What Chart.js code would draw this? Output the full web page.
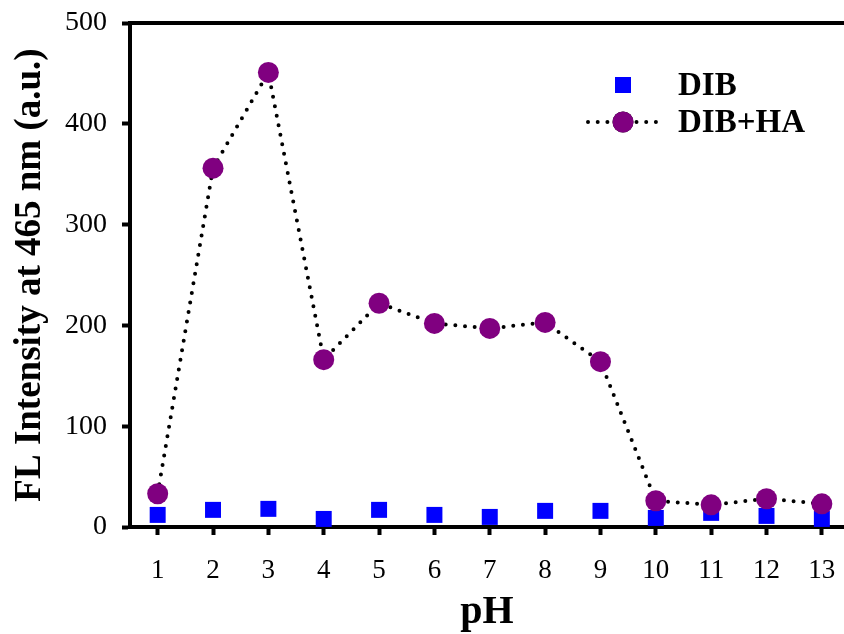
<!DOCTYPE html>
<html>
<head>
<meta charset="utf-8">
<script src="https://cdn.jsdelivr.net/npm/chart.js@4"></script>
<style>
  body { margin: 0; background: #fff; }
</style>
</head>
<body>
<canvas id="chart" width="844" height="634"></canvas>
<script>
var phValues = [1, 2, 3, 4, 5, 6, 7, 8, 9, 10, 11, 12, 13];
var dib = [12, 17, 18, 8, 17, 12, 10, 16, 16, 9, 14, 11, 8];
var dibHa = [33, 356, 451, 166, 222, 202, 197, 203, 164, 26, 22, 28, 23];
var yTicks = [0, 100, 200, 300, 400, 500];

function toPoints(values) {
    return phValues.map(function (x, i) { return { x: x, y: values[i] }; });
}

// no extra room for overflowing tick labels, keep the plot box fixed
function noPadding(scale) {
    scale.paddingTop = 0;
    scale.paddingBottom = 0;
    scale.paddingLeft = 0;
    scale.paddingRight = 0;
}

// legend drawn by hand: marker with dotted line through it, like the original
var legendPlugin = {
    id: 'sideLegend',
    afterDraw: function (chart) {
        var ctx = chart.ctx;
        var items = [
            { ds: chart.data.datasets[1], y: 85 },
            { ds: chart.data.datasets[0], y: 122 }
        ];
        ctx.save();
        items.forEach(function (item) {
            var ds = item.ds;
            var cx = 623;
            if (ds.showLine) {
                ctx.beginPath();
                ctx.setLineDash(ds.borderDash);
                ctx.lineCap = 'round';
                ctx.lineWidth = ds.borderWidth;
                ctx.strokeStyle = ds.borderColor;
                ctx.moveTo(588, item.y);
                ctx.lineTo(658, item.y);
                ctx.stroke();
                ctx.setLineDash([]);
            }
            Chart.helpers.drawPoint(ctx, {
                pointStyle: ds.pointStyle,
                radius: ds.pointRadius,
                rotation: 0,
                borderWidth: 0
            }, cx, item.y);
            ctx.fillStyle = ds.pointBackgroundColor;
            ctx.fill();
            ctx.fillStyle = '#000';
            ctx.font = 'bold 33px "Liberation Serif", serif';
            ctx.textBaseline = 'middle';
            ctx.textAlign = 'left';
            ctx.fillText(ds.label, 678, item.y + 1);
        });
        ctx.restore();
    }
};

var ctx = document.getElementById('chart').getContext('2d');
var chart = new Chart(ctx, {
    type: 'scatter',
    data: {
        datasets: [{
            label: 'DIB+HA',
            data: toPoints(dibHa),
            showLine: true,
            borderColor: '#000',
            borderWidth: 4,
            borderDash: [0, 9.7],
            borderCapStyle: 'round',
            pointStyle: 'circle',
            pointRadius: 10.5,
            pointHoverRadius: 10.5,
            pointBackgroundColor: '#800080',
            pointBorderWidth: 0
        }, {
            label: 'DIB',
            data: toPoints(dib),
            showLine: false,
            pointStyle: 'rect',
            pointRadius: 11.3,
            pointHoverRadius: 11.3,
            pointBackgroundColor: '#0000ff',
            pointBorderWidth: 0
        }]
    },
    options: {
        responsive: false,
        animation: false,
        devicePixelRatio: 1,
        layout: { padding: 0, autoPadding: false },
        plugins: {
            legend: { display: false },
            tooltip: { enabled: false }
        },
        scales: {
            x: {
                type: 'linear',
                position: 'bottom',
                min: 0.5,
                max: 13.4,
                afterBuildTicks: function (scale) {
                    scale.ticks = phValues.map(function (v) { return { value: v }; });
                },
                afterFit: function (scale) { scale.height = 107; noPadding(scale); },
                border: { display: true, color: '#000', width: 4 },
                grid: {
                    drawOnChartArea: false,
                    drawTicks: true,
                    tickLength: 8,
                    tickWidth: 4,
                    tickColor: '#000'
                },
                ticks: {
                    color: '#000',
                    padding: 4,
                    font: { family: '"Liberation Serif", serif', size: 27, lineHeight: 2.4 }
                },
                title: {
                    display: true,
                    text: 'pH',
                    color: '#000',
                    padding: { top: 0, bottom: -3 },
                    font: { family: '"Liberation Serif", serif', size: 40, weight: 'bold' }
                }
            },
            x2: {
                type: 'linear',
                position: 'top',
                min: 0.5,
                max: 13.4,
                afterFit: function (scale) { scale.height = 23; noPadding(scale); },
                border: { display: true, color: '#000', width: 4 },
                grid: { display: false },
                ticks: { display: false }
            },
            y: {
                type: 'linear',
                min: 0,
                max: 500,
                afterBuildTicks: function (scale) {
                    scale.ticks = yTicks.map(function (v) { return { value: v }; });
                },
                afterFit: function (scale) { scale.width = 130; noPadding(scale); },
                border: { display: true, color: '#000', width: 4 },
                grid: {
                    drawOnChartArea: false,
                    drawTicks: true,
                    tickLength: 8,
                    tickWidth: 4,
                    tickColor: '#000'
                },
                ticks: {
                    color: '#000',
                    padding: 15,
                    font: { family: '"Liberation Serif", serif', size: 28 }
                },
                title: {
                    display: true,
                    text: 'FL Intensity at 465 nm (a.u.)',
                    color: '#000',
                    padding: { top: 8, bottom: 0 },
                    font: { family: '"Liberation Serif", serif', size: 37, weight: 'bold' }
                }
            }
        }
    },
    plugins: [legendPlugin]
});
</script>
</body>
</html>
